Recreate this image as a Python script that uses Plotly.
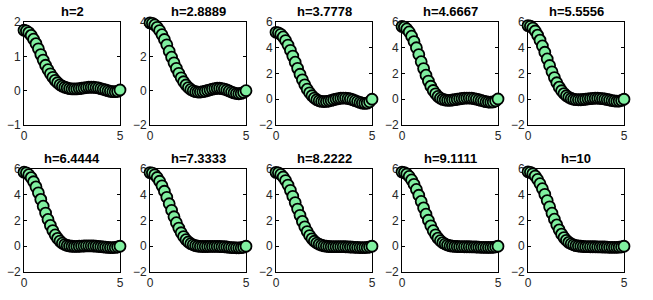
import plotly.graph_objects as go
from plotly.subplots import make_subplots

# grid points (x) shared by every panel
x_vals = [0, 0.125, 0.25, 0.375, 0.5, 0.625, 0.75, 0.875, 1.0, 1.125,
          1.25, 1.375, 1.5, 1.625, 1.75, 1.875, 2.0, 2.125, 2.25, 2.375,
          2.5, 2.625, 2.75, 2.875, 3.0, 3.125, 3.25, 3.375, 3.5, 3.625,
          3.75, 3.875, 4.0, 4.125, 4.25, 4.375, 4.5, 4.625, 4.75, 4.875, 5.0]

titles = ["h=2", "h=2.8889", "h=3.7778", "h=4.6667", "h=5.5556",
          "h=6.4444", "h=7.3333", "h=8.2222", "h=9.1111", "h=10"]

u_h1 = [1.76, 1.74, 1.69, 1.61, 1.50, 1.37, 1.22, 1.05, 0.89, 0.74,
        0.61, 0.49, 0.39, 0.30, 0.23, 0.17, 0.13, 0.10, 0.08, 0.06,
        0.05, 0.05, 0.05, 0.06, 0.07, 0.08, 0.09, 0.10, 0.10, 0.10,
        0.09, 0.08, 0.06, 0.04, 0.02, 0.0, -0.02, -0.03, -0.03, -0.02, 0.02]
u_h2 = [3.95, 3.92, 3.83, 3.69, 3.50, 3.26, 2.98, 2.67, 2.30, 1.95,
        1.62, 1.30, 1.01, 0.75, 0.52, 0.33, 0.18, 0.07, -0.01, -0.06,
        -0.08, -0.08, -0.06, -0.03, 0.01, 0.05, 0.09, 0.12, 0.14, 0.14,
        0.12, 0.09, 0.04, -0.02, -0.08, -0.13, -0.17, -0.18, -0.16, -0.10, 0.0]
u_h3 = [5.20, 5.16, 5.04, 4.84, 4.56, 4.21, 3.80, 3.35, 2.88, 2.40,
        1.94, 1.51, 1.12, 0.78, 0.50, 0.27, 0.09, -0.04, -0.12, -0.17,
        -0.18, -0.17, -0.14, -0.09, -0.04, 0.01, 0.05, 0.08, 0.09, 0.09,
        0.06, 0.02, -0.04, -0.11, -0.18, -0.25, -0.30, -0.32, -0.30, -0.20, 0.0]
u_h4 = [5.65, 5.60, 5.46, 5.23, 4.90, 4.48, 4.00, 3.47, 2.92, 2.38,
        1.87, 1.41, 1.01, 0.68, 0.42, 0.22, 0.08, -0.01, -0.06, -0.08,
        -0.08, -0.06, -0.03, 0.0, 0.03, 0.06, 0.08, 0.09, 0.09, 0.08,
        0.05, 0.01, -0.04, -0.09, -0.14, -0.19, -0.22, -0.23, -0.21, -0.13, 0.02]
u_h5 = [5.72, 5.67, 5.53, 5.30, 4.98, 4.59, 4.14, 3.65, 3.13, 2.62,
        2.13, 1.68, 1.28, 0.94, 0.66, 0.44, 0.27, 0.15, 0.06, 0.0,
        -0.03, -0.04, -0.04, -0.02, 0.0, 0.03, 0.05, 0.07, 0.08, 0.08,
        0.07, 0.05, 0.02, -0.02, -0.06, -0.10, -0.13, -0.15, -0.14, -0.09, 0.0]
u_h6 = [5.75, 5.70, 5.56, 5.33, 5.01, 4.61, 4.15, 3.64, 3.11, 2.58,
        2.08, 1.62, 1.22, 0.88, 0.61, 0.40, 0.24, 0.13, 0.06, 0.02,
        0.0, -0.01, -0.01, 0.0, 0.01, 0.02, 0.03, 0.03, 0.03, 0.02,
        0.01, -0.01, -0.03, -0.05, -0.07, -0.09, -0.10, -0.10, -0.09, -0.06, 0.0]
u_h7 = [5.72, 5.68, 5.55, 5.34, 5.05, 4.69, 4.27, 3.80, 3.30, 2.79,
        2.29, 1.83, 1.41, 1.05, 0.75, 0.51, 0.33, 0.20, 0.11, 0.05,
        0.01, -0.01, -0.02, -0.02, -0.02, -0.01, -0.01, -0.01, -0.01, -0.02,
        -0.03, -0.04, -0.06, -0.08, -0.10, -0.11, -0.12, -0.12, -0.11, -0.07, 0.0]
u_h8 = [5.74, 5.70, 5.58, 5.38, 5.10, 4.75, 4.34, 3.88, 3.39, 2.89,
        2.40, 1.93, 1.51, 1.14, 0.83, 0.58, 0.39, 0.25, 0.15, 0.08,
        0.03, 0.0, -0.02, -0.03, -0.03, -0.03, -0.03, -0.03, -0.03, -0.04,
        -0.05, -0.06, -0.07, -0.08, -0.09, -0.10, -0.10, -0.10, -0.09, -0.06, 0.0]
u_h9 = [5.76, 5.72, 5.61, 5.42, 5.15, 4.81, 4.41, 3.96, 3.48, 2.98,
        2.49, 2.02, 1.59, 1.21, 0.89, 0.63, 0.43, 0.28, 0.17, 0.09,
        0.04, 0.01, -0.01, -0.02, -0.03, -0.03, -0.04, -0.04, -0.04, -0.05,
        -0.05, -0.06, -0.07, -0.08, -0.08, -0.09, -0.09, -0.09, -0.08, -0.05, 0.0]
u_h10 = [5.78, 5.74, 5.63, 5.45, 5.19, 4.86, 4.47, 4.03, 3.55, 3.06,
         2.57, 2.10, 1.66, 1.27, 0.94, 0.67, 0.46, 0.30, 0.19, 0.11,
         0.05, 0.02, 0.0, -0.02, -0.03, -0.03, -0.04, -0.04, -0.04, -0.05,
         -0.05, -0.06, -0.06, -0.07, -0.08, -0.08, -0.08, -0.08, -0.07, -0.05, 0.0]

series = [u_h1, u_h2, u_h3, u_h4, u_h5, u_h6, u_h7, u_h8, u_h9, u_h10]

y_ranges = [[-1, 2], [-2, 4]] + [[-2, 6]] * 8
y_ticks = [[-1, 0, 1, 2], [-2, 0, 2, 4]] + [[-2, 0, 2, 4, 6]] * 8

W, H = 653, 300
col_left = [24, 150, 276, 402, 528]
panel_w = 96
row_top = [22, 169]
panel_h = 103

fig = make_subplots(rows=2, cols=5)

for i, u in enumerate(series):
    r, c = i // 5 + 1, i % 5 + 1
    fig.add_trace(go.Scatter(
        x=x_vals, y=u, mode="markers", cliponaxis=False, showlegend=False,
        hoverinfo="skip",
        marker=dict(size=11, color="#80f0a0", line=dict(color="black", width=1.8))
    ), row=r, col=c)

    left = col_left[c - 1]
    top = row_top[r - 1]
    fig.update_xaxes(
        domain=[left / W, (left + panel_w) / W], range=[0, 5],
        tickvals=[0, 5], row=r, col=c)
    fig.update_yaxes(
        domain=[1 - (top + panel_h) / H, 1 - top / H], range=y_ranges[i],
        tickvals=y_ticks[i], row=r, col=c)

    fig.add_annotation(
        text="<b>" + titles[i] + "</b>", xref="paper", yref="paper",
        x=(left + panel_w / 2) / W, y=1 - (top - 1) / H,
        xanchor="center", yanchor="bottom", showarrow=False,
        font=dict(size=13, color="black"))

# axes sit under the markers, as in the original (end markers cover the box)
axis_style = dict(
    showgrid=False, zeroline=False, showline=True, linecolor="black",
    linewidth=1, mirror="allticks", ticks="inside", ticklen=3,
    tickcolor="black", automargin=False, layer="below traces",
    tickfont=dict(size=12, color="#262626"))
fig.update_xaxes(**axis_style)
fig.update_yaxes(**axis_style)

fig.update_layout(
    width=W, height=H,
    margin=dict(l=0, r=0, t=0, b=0),
    plot_bgcolor="white", paper_bgcolor="white",
    font=dict(family="Liberation Sans, Arial, sans-serif")
)

# the page body has a default 8px margin; remove it so the figure sits at (0, 0)
fig.write_html("out.html", config={"displayModeBar": False},
               post_script="document.body.style.margin = '0px';")
